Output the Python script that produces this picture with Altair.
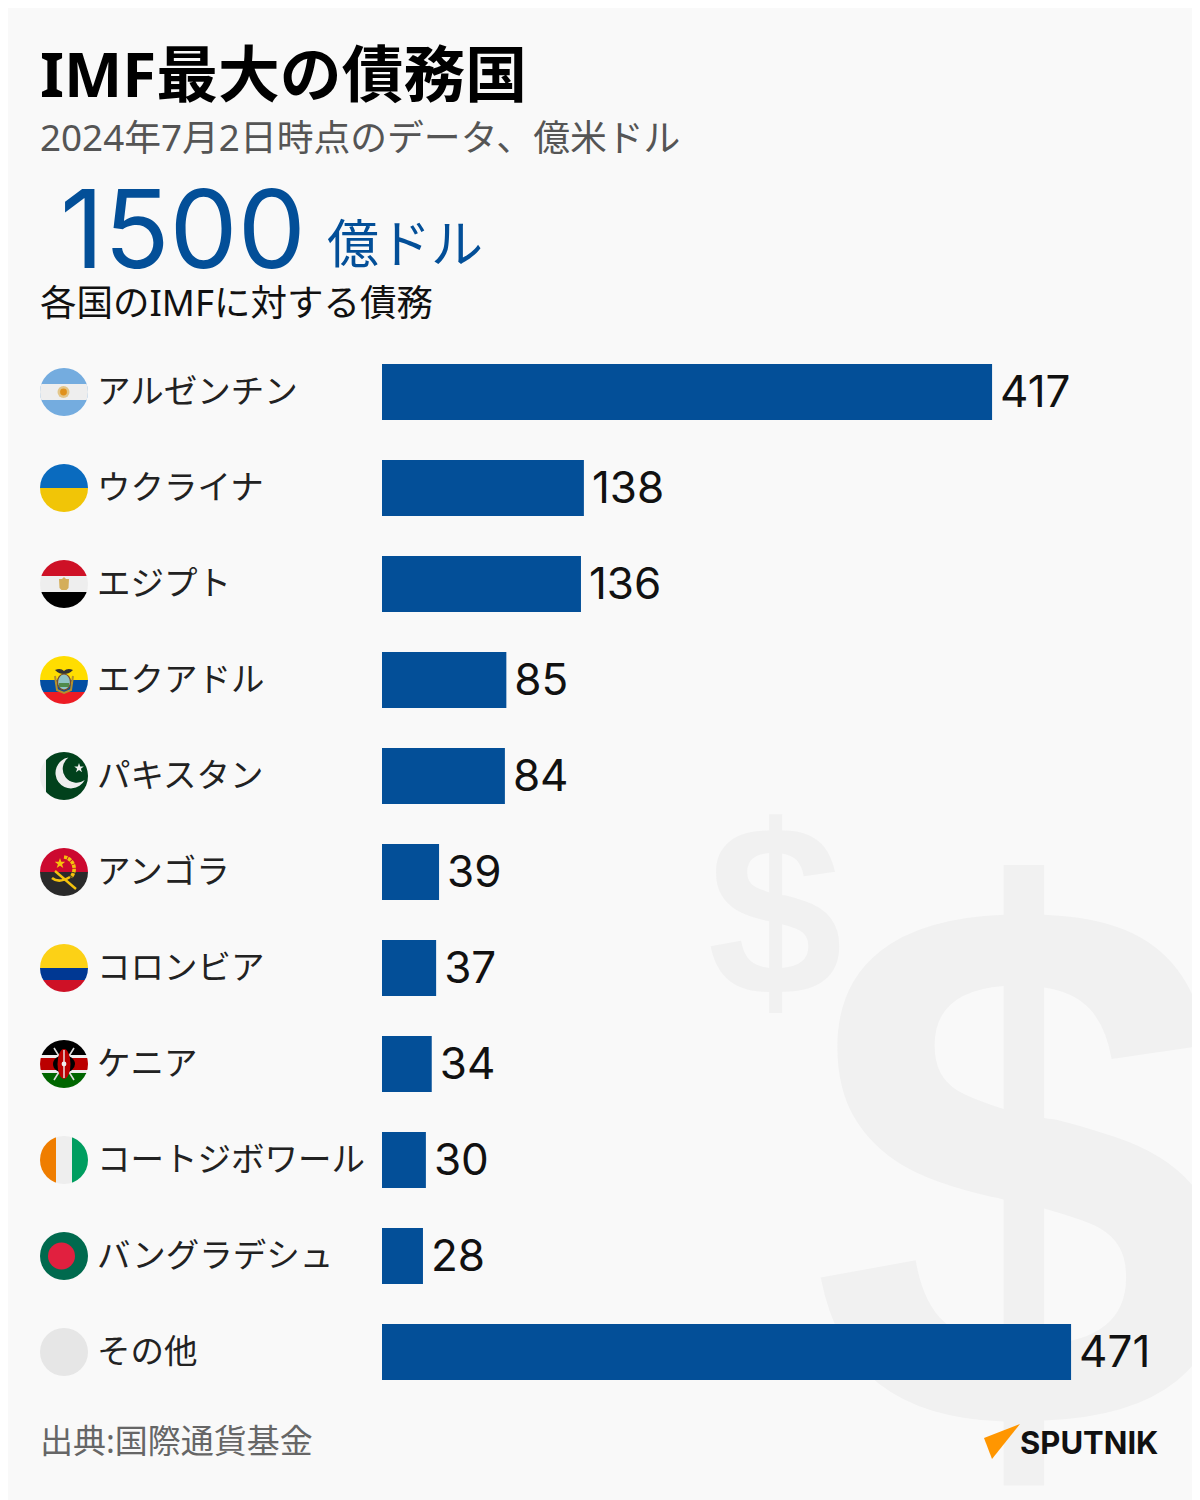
import urllib.parse
import altair as alt
import pandas as pd

countries = ["アルゼンチン", "ウクライナ", "エジプト", "エクアドル", "パキスタン", "アンゴラ",
             "コロンビア", "ケニア", "コートジボワール", "バングラデシュ", "その他"]
debts = [417, 138, 136, 85, 84, 39, 37, 34, 30, 28, 471]

flag_bodies = [
    '<rect width="48" height="48" fill="#74acdf"/><rect y="16" width="48" height="16" fill="#eee"/><circle cx="23.5" cy="24" r="6" fill="#e3c68a"/><circle cx="23.5" cy="24" r="3.4" fill="#e0911c"/>',
    '<rect width="48" height="24" fill="#0a6bbf"/><rect y="24" width="48" height="24" fill="#f1c507"/>',
    '<rect width="48" height="16" fill="#ce1126"/><rect y="16" width="48" height="16" fill="#eee"/><rect y="32" width="48" height="16" fill="#000"/><path d="M24 17l2 2 3 0-.5 9-2 2h-5l-2-2-.5-9 3 0z" fill="#d4ae5a"/>',
    '<rect width="48" height="24" fill="#ffdd00"/><rect y="24" width="48" height="12" fill="#034ea2"/><rect y="36" width="48" height="12" fill="#ed1c24"/><path d="M15 14c4-2 7-1 9 1 2-2 5-3 9-1-3 3-6 4-9 4s-6-1-9-4z" fill="#333"/><path d="M15 20l2 14 7 3 7-3 2-14" fill="none" stroke="#b4902c" stroke-width="2"/><ellipse cx="24" cy="26" rx="6.5" ry="8" fill="#8fc3c4" stroke="#7a4b2a" stroke-width="1.2"/><rect x="19" y="27" width="10" height="4" fill="#4f8a4a"/>',
    '<rect width="48" height="48" fill="#eee"/><rect x="6" width="42" height="48" fill="#01411c"/><path d="M31 6a15.5 15.5 0 1 0 13 24.5a12.5 12.5 0 1 1-13-24.5z" transform="rotate(-8 27 24)" fill="#eee"/><path d="M39 11l1.2 3.4 3.6.1-2.9 2.2 1.1 3.5-3-2.1-3 2.1 1.1-3.5-2.9-2.2 3.6-.1z" fill="#eee"/>',
    '<rect width="48" height="24" fill="#cc092f"/><rect y="24" width="48" height="24" fill="#2a2a2a"/><path d="M24 9a12 12 0 0 1 7 20" fill="none" stroke="#f4c20d" stroke-width="3.6" stroke-dasharray="3.4 .8"/><path d="M12 30c6 5 13 2 18-1" fill="none" stroke="#f4c20d" stroke-width="2.6"/><path d="M15 23l21 18" stroke="#f4c20d" stroke-width="2.4"/><path d="M20 10l1.3 3.8 4 0-3.2 2.4 1.2 3.8-3.3-2.3-3.3 2.3 1.2-3.8-3.2-2.4 4 0z" fill="#f4c20d"/>',
    '<rect width="48" height="24" fill="#fcd116"/><rect y="24" width="48" height="12" fill="#003893"/><rect y="36" width="48" height="12" fill="#ce1126"/>',
    '<rect width="48" height="15" fill="#000"/><rect y="15" width="48" height="3" fill="#eee"/><rect y="18" width="48" height="12" fill="#bb0000"/><rect y="30" width="48" height="3" fill="#eee"/><rect y="33" width="48" height="15" fill="#006600"/><path d="M14 8l20 32M34 8L14 40" stroke="#ddd" stroke-width="1.6"/><ellipse cx="24" cy="24" rx="11" ry="9" fill="#000"/><ellipse cx="24" cy="24" rx="6.5" ry="15" fill="#bb0000"/><path d="M24 10v28" stroke="#eee" stroke-width="1.4"/><circle cx="24" cy="24" r="2.4" fill="#eee"/>',
    '<rect width="16" height="48" fill="#ef7d00"/><rect x="16" width="16" height="48" fill="#eee"/><rect x="32" width="16" height="48" fill="#009e60"/>',
    '<rect width="48" height="48" fill="#006a4e"/><circle cx="21.5" cy="24" r="13.5" fill="#e1203f"/>',
    '<rect width="48" height="48" fill="#e6e6e6"/>',
]

title_text = "IMF最大の債務国"
subtitle_text = "2024年7月2日時点のデータ、億米ドル"
total_number = "1500"
total_unit = "億ドル"
total_caption = "各国のIMFに対する債務"
source_text = "出典:国際通貨基金"
logo_text = "SPUTNIK"

W, H = 1184, 1492
BLUE = "#034f98"
CJK = "Noto Sans, Noto Sans CJK JP"
BG = "#f9f9f9"


def flag_url(body):
    svg = ('<svg xmlns="http://www.w3.org/2000/svg" width="48" height="48" viewBox="0 0 48 48">'
           '<defs><clipPath id="c"><circle cx="24" cy="24" r="24"/></clipPath></defs>'
           f'<g clip-path="url(#c)">{body}</g></svg>')
    return "data:image/svg+xml," + urllib.parse.quote(svg)


df = pd.DataFrame({"country": countries, "debt": debts, "flag": [flag_url(b) for b in flag_bodies]})

unit = 1.463
x_scale = alt.Scale(domain=[-374 / unit, (W - 374) / unit], range=[0, W], nice=False, zero=False)
y_scale = alt.Scale(domain=countries, range=[336, 1392], paddingInner=40 / 96, paddingOuter=20 / 96)
X = alt.X("debt:Q", scale=x_scale, axis=None)
Y = alt.Y("country:N", scale=y_scale, axis=None, sort=None)


def label(text, px, py, size, color="#000", weight="normal", font=CJK, align="left"):
    return alt.Chart(pd.DataFrame({"t": [text]})).mark_text(
        font=font, fontSize=size, fontWeight=weight, color=color, align=align, baseline="alphabetic"
    ).encode(x=alt.value(px - 8), y=alt.value(py - 8), text="t:N")


logo_svg = ('<svg xmlns="http://www.w3.org/2000/svg" width="40" height="40" viewBox="0 0 40 40">'
            '<path d="M38 2L2 16l8 21z" fill="#ff9600"/></svg>')
logo = alt.Chart(pd.DataFrame({"u": ["data:image/svg+xml," + urllib.parse.quote(logo_svg)]})).mark_image(
    width=40, height=40
).encode(x=alt.value(1002 - 8), y=alt.value(1442 - 8), url="u:N")

layers = [
    label("$", 775, 995, 243, "#f1f1f1", "bold", "Liberation Sans", "center"),
    label("$", 1022, 1429, 760, "#f1f1f1", "bold", "Liberation Sans", "center"),
    label(title_text, 40, 97, 61.8, "#000", "bold"),
    label(subtitle_text, 40, 151, 36.8, "#555555"),
    label(total_number, 60, 268, 108, BLUE, "normal", "Inter"),
    label(total_unit, 327, 263, 52, BLUE),
    label(total_caption, 40, 316, 36.5, "#111111"),
    alt.Chart(df).mark_bar(color=BLUE).encode(x=alt.X("debt:Q", scale=x_scale, axis=None, stack=None), y=Y),
    alt.Chart(df).mark_text(font="Inter", fontSize=44, align="left", baseline="middle", dx=8, dy=2, color="#111111").encode(x=X, y=Y, text="debt:Q"),
    alt.Chart(df).mark_text(font=CJK, fontSize=33.5, align="left", baseline="middle", dy=1, color="#222222").encode(x=alt.value(97 - 8), y=Y, text="country:N"),
    alt.Chart(df).mark_image(width=48, height=48).encode(x=alt.value(64 - 8), y=Y, url="flag:N"),
    label(source_text, 40, 1453, 33, "#666666"),
    logo,
    label(logo_text, 1020, 1454, 31, "#111111", "bold", "Inter"),
]

chart = alt.layer(*layers).resolve_scale(x="shared", y="shared").properties(
    width=W, height=H, padding=0, autosize=alt.AutoSizeParams(type="none"), background=BG
).configure_view(stroke=None)

chart.save("out.html", embed_options={"renderer": "svg", "actions": False})
